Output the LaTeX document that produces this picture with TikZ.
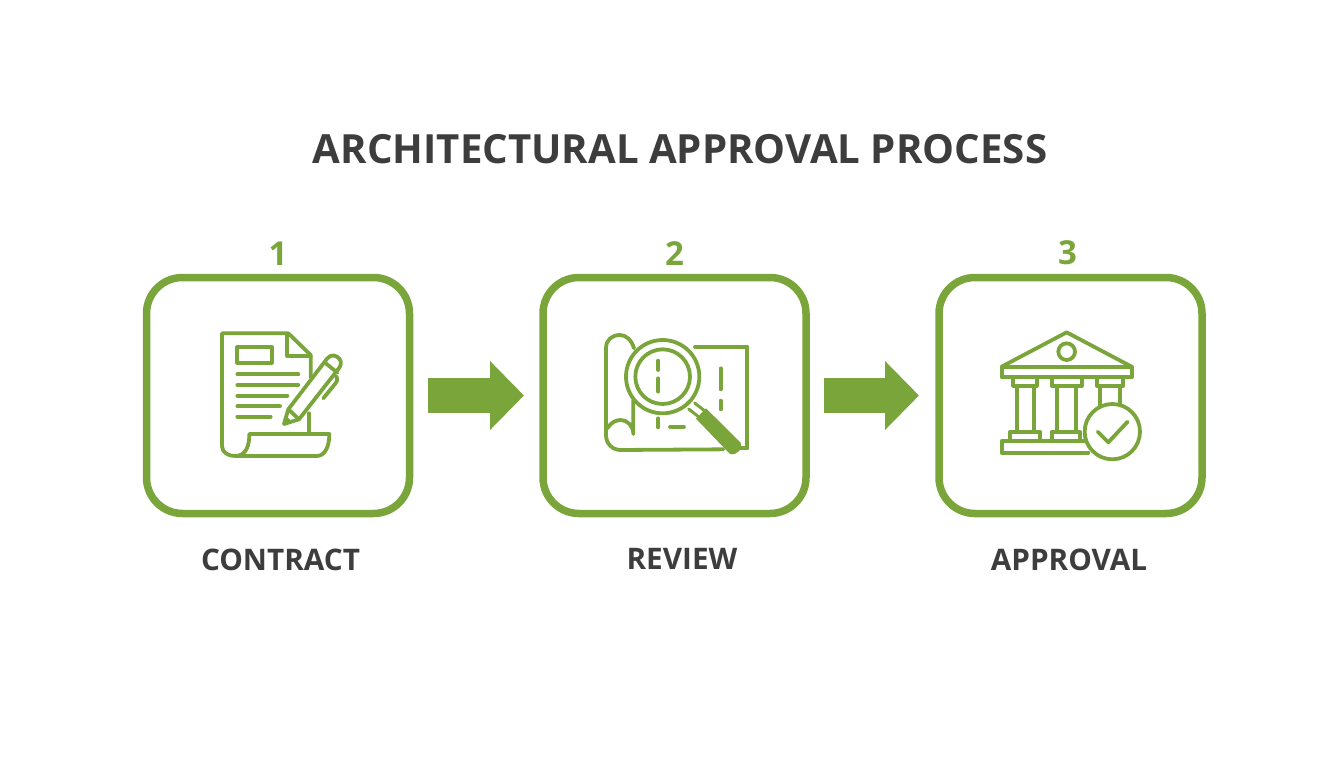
\documentclass[tikz,border=0pt]{standalone}
\usepackage{fontspec}
\setmainfont{Open Sans}
\usetikzlibrary{positioning,arrows.meta}
\definecolor{leafgreen}{HTML}{7AA53A}
\definecolor{inkgray}{HTML}{3D3D3D}
\tikzset{
stepbox/.style={draw=leafgreen, line width=7.5pt, rounded corners=36pt, minimum width=263pt, minimum height=236pt, inner sep=0pt, outer sep=0pt},
stepnum/.style={text=leafgreen, font=\bfseries\fontsize{33}{36}\selectfont, inner sep=0pt},
steplabel/.style={text=inkgray, font=\bfseries\fontsize{29.7}{32}\selectfont, inner sep=0pt},
blockarrow/.style={draw=leafgreen, line width=35pt, -{Triangle[length=34pt,width=67pt]}},
iconline/.style={draw=leafgreen, line width=3.8pt, line cap=round, line join=round},
iconscale/.style={x=0.3333pt, y=-0.3333pt},
}
\begin{document}
\begin{tikzpicture}[x=1pt, y=-1pt]
\useasboundingbox (0,0) rectangle (1344,768);
\node[text=inkgray, font=\bfseries\fontsize{40.2}{44}\selectfont, inner sep=0pt] (title) at (680,149) {ARCHITECTURAL APPROVAL PROCESS};
\node[stepbox] (contract) at (278,395.5) {};
\node[stepbox] (review) at (674.5,395.5) {};
\node[stepbox] (approval) at (1070.5,395.5) {};
\node[stepnum, above=12pt of contract] (num1) {1};
\node[stepnum, above=12pt of review] (num2) {2};
\node[stepnum, above=12pt of approval, xshift=-3pt] (num3) {3};
\node[steplabel, below=35pt of contract, xshift=2.5pt] (label1) {CONTRACT};
\node[steplabel, below=35pt of review, xshift=7.5pt] (label2) {REVIEW};
\node[steplabel, below=35pt of approval, xshift=-1.5pt] (label3) {APPROVAL};
\draw[blockarrow, shorten <=18.5pt, shorten >=19pt] (contract.east) -- (review.west);
\draw[blockarrow, shorten <=18pt, shorten >=20pt] (review.east) -- (approval.west);
\begin{scope}[shift={(200,320)}, iconscale]
\draw[iconline] (332,172) -- (332,105) -- (265,40) -- (66,40) -- (66,378) .. controls (66,398) and (85,408) .. (105,408) -- (350,408) .. controls (375,408) and (388,380) .. (388,342) -- (148,342) .. controls (148,375) and (140,408) .. (105,408);
\draw[iconline] (262,42) -- (262,108) -- (332,108);
\draw[iconline] (328,280) -- (328,342);
\draw[iconline] (112,82) rectangle (216,128);
\draw[iconline] (112,163) -- (295,163);
\draw[iconline] (112,195) -- (295,195);
\draw[iconline] (112,227) -- (262,227);
\draw[iconline] (112,259) -- (240,259);
\draw[iconline] (112,290) -- (212,290);
\draw[iconline] (252,312) -- (265,268) -- (382,115) .. controls (392,102) and (410,105) .. (419,117) .. controls (426,128) and (422,138) .. (415,147) -- (297,298) -- cycle;
\draw[iconline] (265,268) -- (297,298);
\draw[iconline] (375,128) -- (412,158);
\draw[iconline] (408,168) .. controls (414,176) and (412,184) .. (405,192) -- (370,235);
\fill[leafgreen] (252,312) -- (258,288) -- (276,304) -- cycle;
\end{scope}
\begin{scope}[shift={(590,320)}, iconscale]
\draw[iconline] (132,85) .. controls (125,60) and (108,45) .. (90,45) .. controls (65,45) and (48,60) .. (48,85) -- (48,345) .. controls (48,372) and (68,390) .. (92,390) -- (400,388);
\draw[iconline] (52,325) .. controls (62,308) and (78,300) .. (92,300) .. controls (112,300) and (130,318) .. (130,342) -- (130,240);
\draw[iconline] (315,80) -- (472,80) -- (472,385) -- (450,385);
\draw[iconline] (205,295) -- (205,322);
\draw[iconline] (240,320) -- (282,320);
\draw[iconline] (392,145) -- (392,208);
\draw[iconline] (392,242) -- (392,268);
\draw[iconline, line width=3pt] (314,249) -- (342,271);
\draw[iconline, line width=3pt] (296,267) -- (324,289);
\draw[iconline, fill=white] (218,170) circle (110);
\draw[iconline] (218,170) circle (82);
\draw[iconline] (205,122) -- (205,150);
\draw[iconline] (205,175) -- (205,215);
\fill[leafgreen] (348,265) -- (452,368) .. controls (462,385) and (440,408) .. (420,402) -- (318,296) -- cycle;
\end{scope}
\begin{scope}[shift={(985,320)}, iconscale]
\draw[iconline] (50,140) -- (245,37) -- (440,140);
\draw[iconline] (50,140) rectangle (440,172);
\draw[iconline] (245,95) circle (25);
\draw[iconline] (85,172) rectangle (155,197);
\draw[iconline] (200,172) rectangle (290,197);
\draw[iconline] (335,172) rectangle (415,197);
\draw[iconline] (95,197) -- (95,335);
\draw[iconline] (148,197) -- (148,335);
\draw[iconline] (217,197) -- (217,335);
\draw[iconline] (272,197) -- (272,335);
\draw[iconline] (345,197) -- (345,262);
\draw[iconline] (405,197) -- (405,262);
\draw[iconline] (75,335) rectangle (165,364);
\draw[iconline] (200,335) rectangle (285,364);
\draw[iconline] (310,364) -- (50,364) -- (50,398) -- (310,398);
\draw[iconline, fill=white] (382,335) circle (83);
\draw[iconline] (338,335) -- (370,367) -- (428,305);
\end{scope}
\end{tikzpicture}
\end{document}
